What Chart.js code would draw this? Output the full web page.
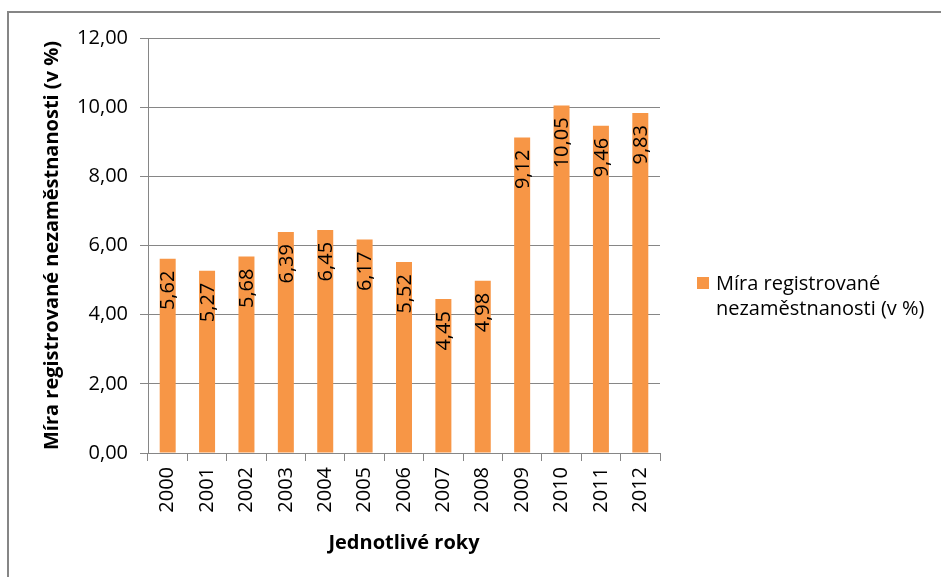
<!DOCTYPE html>
<html>
<head>
<meta charset="utf-8">
<script src="https://cdn.jsdelivr.net/npm/chart.js@4/dist/chart.umd.min.js"></script>
<style>
  html, body { margin: 0; padding: 0; background: #fff; }
  #wrap { position: relative; width: 941px; height: 577px; overflow: hidden; }
  #frame { position: absolute; left: 7px; top: 11px; width: 1000px; height: 1000px; border-left: 2px solid #868686; border-top: 2px solid #868686; box-sizing: border-box; pointer-events: none; }
  #legend { position: absolute; left: 697px; top: 270px; font-family: "Open Sans", sans-serif; font-size: 20px; line-height: 25px; color: #000; }
  #legend .sw { position: absolute; left: 0; top: 7px; width: 12px; height: 12px; background: #F79646; }
  #legend .tx { margin-left: 19px; }
  canvas { position: absolute; left: 0; top: 0; }
</style>
</head>
<body>
<div id="wrap">
  <canvas id="c" width="941" height="577"></canvas>
  <div id="frame"></div>
  <div id="legend"><div class="sw"></div><div class="tx">Míra registrované<br>nezaměstnanosti (v %)</div></div>
</div>
<script>
const categories = ["2000","2001","2002","2003","2004","2005","2006","2007","2008","2009","2010","2011","2012"];
const seriesName = "Míra registrované nezaměstnanosti (v %)";
const values = [5.62, 5.27, 5.68, 6.39, 6.45, 6.17, 5.52, 4.45, 4.98, 9.12, 10.05, 9.46, 9.83];
const yTicks = [0, 2, 4, 6, 8, 10, 12];
const xTitle = "Jednotlivé roky";
const yTitle = "Míra registrované nezaměstnanosti (v %)";

const FONT = "'Open Sans', sans-serif";
const fmt = (v, d) => v.toFixed(d).replace('.', ',');

const barLabels = {
  id: 'barLabels',
  afterDatasetsDraw(chart) {
    const ctx = chart.ctx;
    const meta = chart.getDatasetMeta(0);
    ctx.save();
    ctx.fillStyle = '#000';
    ctx.font = "20px " + FONT;
    meta.data.forEach((bar, i) => {
      ctx.save();
      ctx.translate(bar.x, bar.y + 12);
      ctx.rotate(-Math.PI / 2);
      ctx.textAlign = 'right';
      ctx.textBaseline = 'middle';
      ctx.fillText(fmt(values[i], 2), 0, 1);
      ctx.restore();
    });
    ctx.restore();
  }
};

new Chart(document.getElementById('c'), {
  type: 'bar',
  data: {
    labels: categories,
    datasets: [{
      label: seriesName,
      data: values,
      backgroundColor: '#F79646',
      borderWidth: 0,
      barPercentage: 0.58,
      categoryPercentage: 0.7
    }]
  },
  options: {
    responsive: false,
    animation: false,
    devicePixelRatio: 1,
    layout: { padding: { left: 0, top: 38, right: 281, bottom: 22 } },
    plugins: { legend: { display: false }, tooltip: { enabled: false } },
    scales: {
      x: {
        grid: { display: true, drawOnChartArea: false, drawTicks: true, tickLength: 8, color: '#868686', offset: true },
        border: { display: true, color: '#868686', width: 1 },
        ticks: { color: '#000', font: { family: FONT, size: 20 }, minRotation: 90, maxRotation: 90, padding: 6 },
        title: { display: true, text: xTitle, color: '#000', font: { family: FONT, size: 20, weight: 'bold' }, padding: { top: 6, bottom: 0 } },
        afterFit(scale) { scale.height = 102; }
      },
      y: {
        min: 0, max: 12,
        afterBuildTicks(scale) { scale.ticks = yTicks.map(v => ({ value: v })); },
        grid: { color: '#868686', drawTicks: true, tickLength: 8 },
        border: { display: true, color: '#868686', width: 1 },
        ticks: { color: '#000', font: { family: FONT, size: 20 }, padding: 12, callback: v => fmt(v, 2) },
        title: { display: true, text: yTitle, color: '#000', font: { family: FONT, size: 20, weight: 'bold' }, padding: { top: 40, bottom: 0 } },
        afterFit(scale) { scale.width = 148; }
      }
    }
  },
  plugins: [barLabels]
});
</script>
</body>
</html>
